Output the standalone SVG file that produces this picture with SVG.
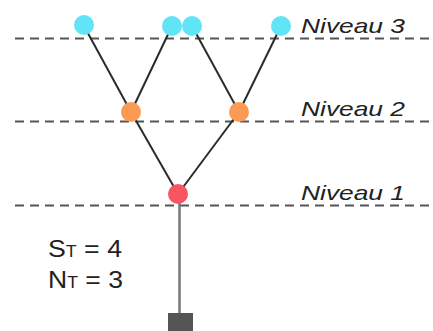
<svg xmlns="http://www.w3.org/2000/svg" width="433" height="331" viewBox="0 0 433 331">
<style>
.lvl{stroke:#555;stroke-width:2.2;stroke-dasharray:9 6;fill:none}
.edge{stroke:#2b2b2b;stroke-width:2;fill:none}
.stem{stroke:#777;stroke-width:2.5;fill:none}
.lbl{font-family:"Liberation Sans",Arial,sans-serif;font-style:italic;font-size:21px;fill:#222}
.txt{font-family:"Liberation Sans",Arial,sans-serif;font-size:24px;fill:#222}
.c3{fill:#62e4f7}
.c2{fill:#fb9a52}
.c1{fill:#f85462}
</style>
<rect width="433" height="331" fill="#fff"/>
<g id="levels">
<line class="lvl" x1="15" y1="38.5" x2="433" y2="38.5"/>
<line class="lvl" x1="15" y1="121.5" x2="433" y2="121.5"/>
<line class="lvl" x1="15" y1="205.5" x2="433" y2="205.5"/>
</g>
<g id="connectors">
<line class="edge" x1="84" y1="26" x2="131" y2="112"/>
<line class="edge" x1="172" y1="26" x2="131" y2="112"/>
<line class="edge" x1="192" y1="26" x2="239" y2="112"/>
<line class="edge" x1="281" y1="26" x2="239" y2="112"/>
<line class="edge" x1="131" y1="112" x2="178" y2="194"/>
<line class="edge" x1="239" y1="112" x2="178" y2="194"/>
<line class="stem" x1="179.5" y1="194" x2="179.5" y2="314"/>
</g>
<g id="n3a"><circle class="c3" cx="84" cy="25" r="10"/></g>
<g id="n3b"><circle class="c3" cx="172" cy="26" r="10"/></g>
<g id="n3c"><circle class="c3" cx="192" cy="26" r="10"/></g>
<g id="n3d"><circle class="c3" cx="281" cy="26" r="10"/></g>
<g id="n2a"><circle class="c2" cx="131" cy="112" r="10"/></g>
<g id="n2b"><circle class="c2" cx="239" cy="112" r="10"/></g>
<g id="n1"><circle class="c1" cx="178" cy="194" r="10"/></g>
<g id="root"><rect x="168" y="313" width="25" height="20" fill="#555"/></g>
<g id="labels">
<text class="lbl" x="301" y="32.5" textLength="104" lengthAdjust="spacingAndGlyphs">Niveau 3</text>
<text class="lbl" x="301" y="116" textLength="104" lengthAdjust="spacingAndGlyphs">Niveau 2</text>
<text class="lbl" x="301" y="199.5" textLength="104" lengthAdjust="spacingAndGlyphs">Niveau 1</text>
<text class="txt" x="48" y="257" textLength="74" lengthAdjust="spacingAndGlyphs">S<tspan font-size="16">T</tspan> = 4</text>
<text class="txt" x="48" y="288" textLength="75" lengthAdjust="spacingAndGlyphs">N<tspan font-size="16">T</tspan> = 3</text>
</g>
</svg>
